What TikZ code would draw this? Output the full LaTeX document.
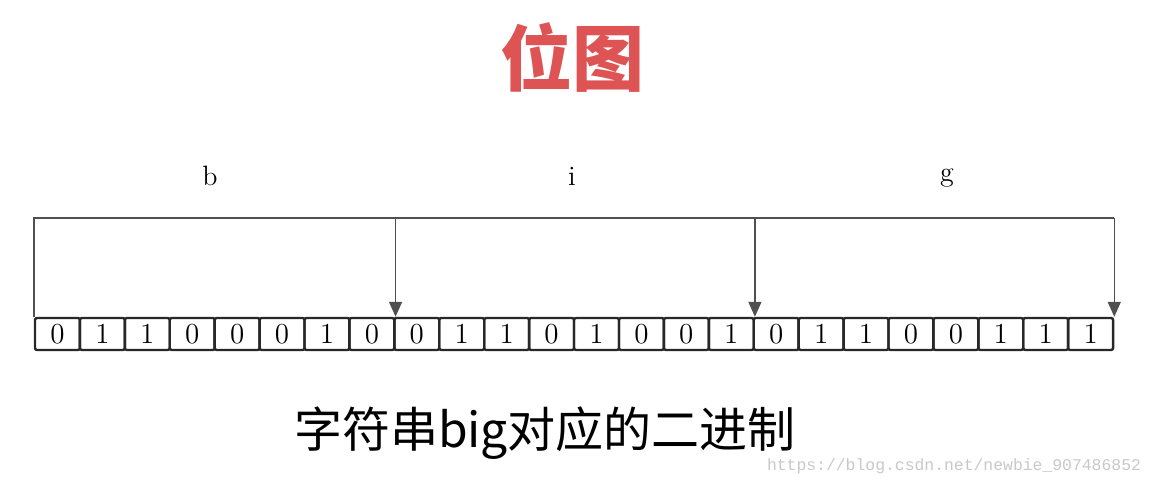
\documentclass[tikz,border=0pt]{standalone}
\usepackage{fontspec}
\usepackage{xcolor}
\usepackage{tikz}
\usetikzlibrary{arrows.meta,positioning,calc}
\newfontfamily\cjk{Noto Sans CJK SC}
\newfontfamily\wmfont{Liberation Mono}
\definecolor{bmedge}{RGB}{40,40,40}
\definecolor{bmline}{RGB}{80,80,80}
\definecolor{bmtitle}{RGB}{222,84,84}
\definecolor{bmmark}{RGB}{200,200,200}
\tikzset{
  bitcell/.style={
    draw=bmedge, line width=1.2pt, rounded corners=1pt,
    minimum width=22.46pt, minimum height=16pt, inner sep=0pt,
    font=\fontsize{14.5}{14.5}\selectfont
  },
  link/.style={draw=bmline, line width=0.75pt},
  arr/.style={link, -{Triangle[length=7.5pt,width=6.5pt]}},
  charlab/.style={font=\fontsize{14}{14}\selectfont},
  title/.style={font=\cjk\bfseries\fontsize{36}{36}\selectfont, text=bmtitle},
  caption/.style={font=\cjk\fontsize{24}{24}\selectfont},
  wmark/.style={font=\wmfont\fontsize{8.2}{8.2}\selectfont, text=bmmark}
}
\begin{document}
\begin{tikzpicture}[x=0.5pt, y=-0.5pt]
  \useasboundingbox (0,0) rectangle (1157,486);
  \node[title] (head) at (572,57) {位图};
  % the 24 bits of "big"
  \foreach \bit [count=\k] in {0,1,1,0,0,0,1,0,0,1,1,0,1,0,0,1,0,1,1,0,0,1,1,1}
    \node[bitcell] (c\k) at ({35+(\k-0.5)*44.92},334) {\bit};
  \coordinate (top) at (35,218);
  \node[charlab] (lb) at (210,176) {b};
  \node[charlab] (li) at (572,176) {i};
  \node[charlab] (lg) at (947,178) {g};
  \draw[link] (c1.north west) -- (c1.north west |- top) -- (c24.north east |- top);
  \draw[arr] (c8.north east |- top) -- (c8.north east);
  \draw[arr] (c16.north east |- top) -- (c16.north east);
  \draw[arr] (c24.north east |- top) -- (c24.north east);
  \node[caption] (cap) at (545,433) {字符串big对应的二进制};
  \node[wmark] (wm) at (954,466) {https://blog.csdn.net/newbie\_907486852};
\end{tikzpicture}
\end{document}
